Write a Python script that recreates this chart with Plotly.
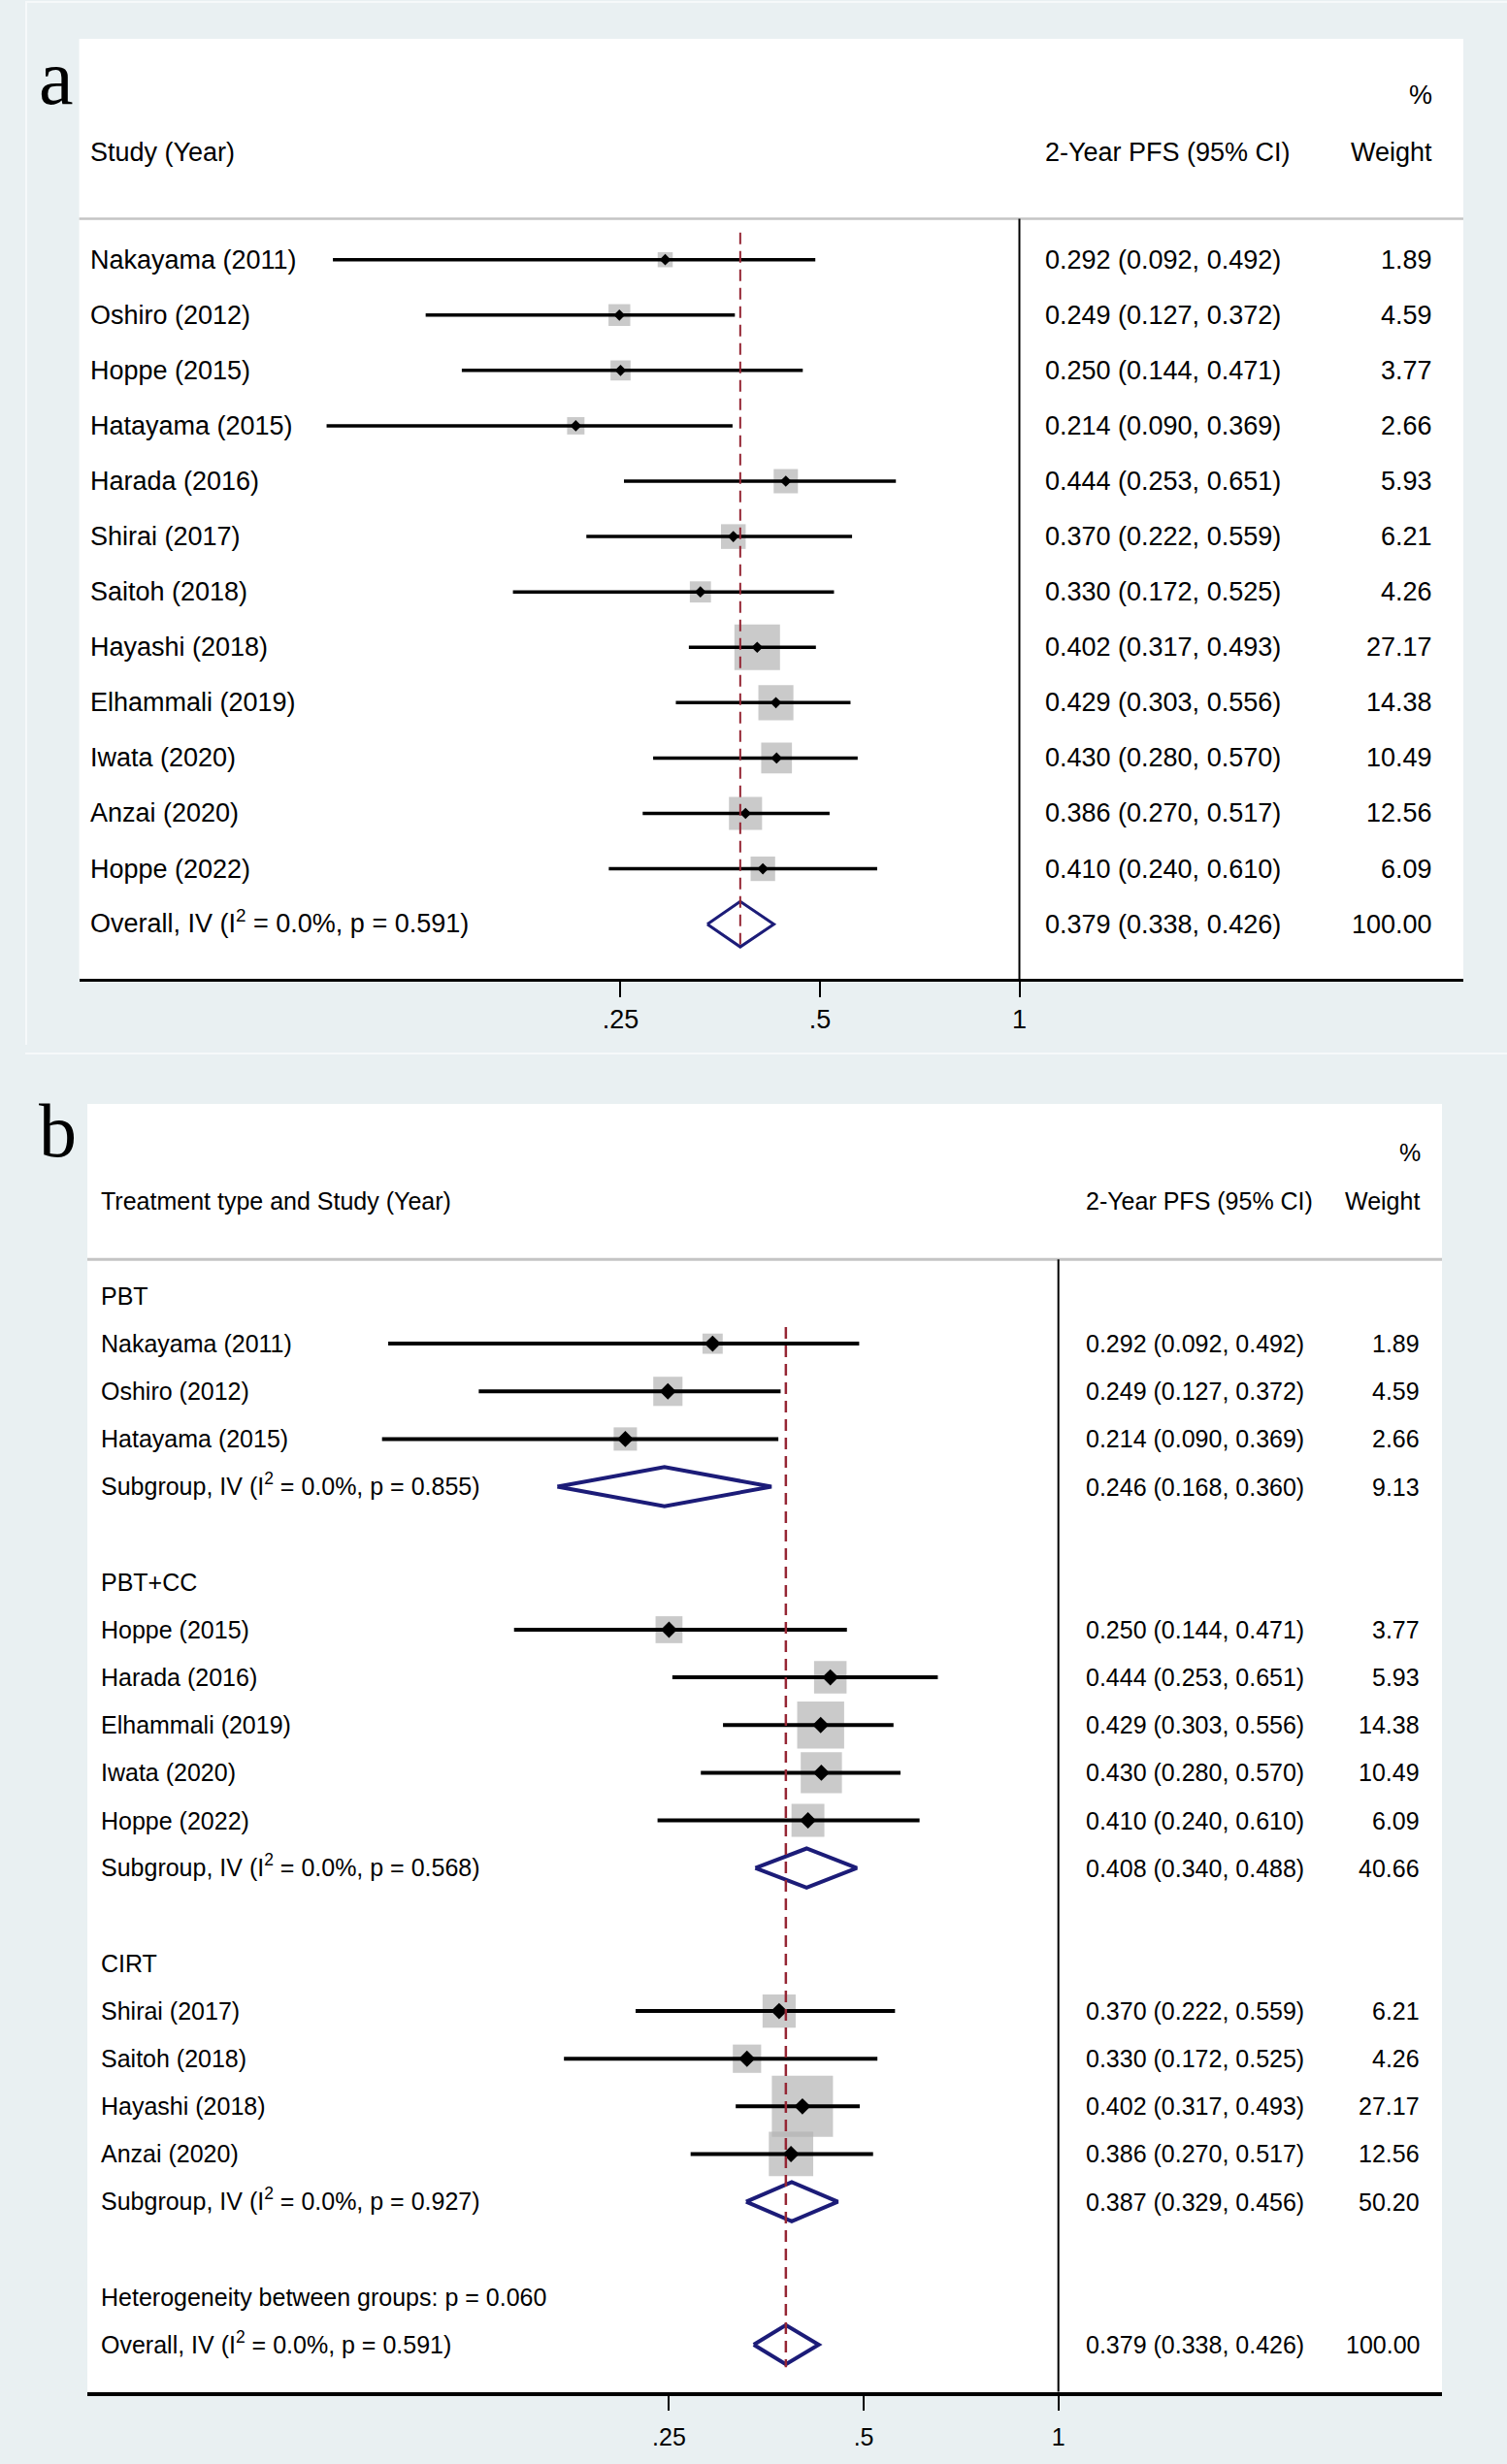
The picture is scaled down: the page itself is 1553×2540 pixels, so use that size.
import plotly.graph_objects as go

W, H = 1553, 2540
FONT = "Liberation Sans, Arial, sans-serif"

# ---------------- data ----------------
studies = ["Nakayama (2011)", "Oshiro (2012)", "Hoppe (2015)", "Hatayama (2015)",
           "Harada (2016)", "Shirai (2017)", "Saitoh (2018)", "Hayashi (2018)",
           "Elhammali (2019)", "Iwata (2020)", "Anzai (2020)", "Hoppe (2022)"]
est = [0.292, 0.249, 0.250, 0.214, 0.444, 0.370, 0.330, 0.402, 0.429, 0.430, 0.386, 0.410]
lo = [0.092, 0.127, 0.144, 0.090, 0.253, 0.222, 0.172, 0.317, 0.303, 0.280, 0.270, 0.240]
hi = [0.492, 0.372, 0.471, 0.369, 0.651, 0.559, 0.525, 0.493, 0.556, 0.570, 0.517, 0.610]
weight = [1.89, 4.59, 3.77, 2.66, 5.93, 6.21, 4.26, 27.17, 14.38, 10.49, 12.56, 6.09]

overall = dict(est=0.379, lo=0.338, hi=0.426, wt=100.00, i2="0.0%", p="0.591")

groups = ["PBT", "PBT+CC", "CIRT"]
group_studies = [
    ["Nakayama (2011)", "Oshiro (2012)", "Hatayama (2015)"],
    ["Hoppe (2015)", "Harada (2016)", "Elhammali (2019)", "Iwata (2020)", "Hoppe (2022)"],
    ["Shirai (2017)", "Saitoh (2018)", "Hayashi (2018)", "Anzai (2020)"],
]
sub_est = [0.246, 0.408, 0.387]
sub_lo = [0.168, 0.340, 0.329]
sub_hi = [0.360, 0.488, 0.456]
sub_wt = [9.13, 40.66, 50.20]
sub_p = ["0.855", "0.568", "0.927"]
het_p = "0.060"

ticks = [0.25, 0.5, 1]
tick_text = [".25", ".5", "1"]


def px(x):
    return x / W


def py(y):
    return 1 - y / H


def ci_text(e, l, h):
    return f"{e:.3f} ({l:.3f}, {h:.3f})"


fig = go.Figure()
annotations = []
shapes = []


def add_text(xr_paper, yr, r, text, fsize, anchor="left"):
    annotations.append(dict(x=px(xr_paper), y=r, xref="paper", yref=yr, text=text,
                            xanchor=anchor, yanchor="middle", showarrow=False,
                            font=dict(size=fsize, color="black", family=FONT)))


def add_panel(xr, yr, rows, names, e, l, h, w, box_max, diam_size, ci_w, fsize,
              col_label, col_ci, col_wt):
    # weight boxes, area grows with the study weight
    fig.add_trace(go.Scatter(
        x=e, y=rows, mode="markers", xaxis=xr, yaxis=yr, hoverinfo="skip",
        marker=dict(symbol="square", color="#b4b4b4",
                    size=[box_max * (v / 27.17) ** 0.415 for v in w], line=dict(width=0))))
    # confidence intervals
    xs, ys = [], []
    for r, a, b in zip(rows, l, h):
        xs += [a, b, None]
        ys += [r, r, None]
    fig.add_trace(go.Scatter(x=xs, y=ys, mode="lines", xaxis=xr, yaxis=yr,
                             line=dict(color="black", width=ci_w), hoverinfo="skip"))
    fig.add_trace(go.Scatter(
        x=e, y=rows, mode="markers", xaxis=xr, yaxis=yr, hoverinfo="skip",
        marker=dict(symbol="diamond", color="black", size=diam_size)))
    for r, n, a, b, c, v in zip(rows, names, e, l, h, w):
        add_text(col_label, yr, r, n, fsize)
        add_text(col_ci, yr, r, ci_text(a, b, c), fsize)
        add_text(col_wt, yr, r, f"{v:.2f}", fsize, "right")


def add_diamond(xr, yr, r, e, l, h, width):
    hh = 0.41
    fig.add_trace(go.Scatter(x=[l, e, h, e, l], y=[r, r - hh, r, r + hh, r], mode="lines",
                             xaxis=xr, yaxis=yr, hoverinfo="skip",
                             line=dict(color="#1c1c78", width=width)))


# ---------------- panel a ----------------
FA = 27
rows_a = list(range(len(studies)))
add_panel("x", "y", rows_a, studies, est, lo, hi, weight, 47, 9, 3.5, FA, 91, 1075, 1478)
ov_a = len(studies)
add_diamond("x", "y", ov_a, overall["est"], overall["lo"], overall["hi"], 3)
add_text(91, "y", ov_a - 0.04, f"Overall, IV (I<sup>2</sup> = {overall['i2']}, p = {overall['p']})", FA)
add_text(1075, "y", ov_a, ci_text(overall["est"], overall["lo"], overall["hi"]), FA)
add_text(1478, "y", ov_a, f"{overall['wt']:.2f}", FA, "right")
add_text(91, "y", -1.94, "Study (Year)", FA)
add_text(1075, "y", -1.94, "2-Year PFS (95% CI)", FA)
add_text(1478, "y", -1.94, "Weight", FA, "right")
add_text(1478, "y", -2.97, "%", FA, "right")

ya_bot, ya_top = 12.987, -3.989
shapes += [
    dict(type="line", xref="x domain", yref="y", x0=0, x1=1, y0=-0.74, y1=-0.74,
         line=dict(color="#c4c4c4", width=2.5)),
    dict(type="line", xref="x", yref="y", x0=1, x1=1, y0=-0.74, y1=ya_bot,
         line=dict(color="black", width=2)),
    dict(type="line", xref="x", yref="y", x0=overall["est"], x1=overall["est"],
         y0=-0.49, y1=ov_a + 0.48, layer="above",
         line=dict(color="#952634", width=2, dash="12px,7px")),
]

# ---------------- panel b ----------------
FB = 25
row = 0
b_rows, b_names, b_e, b_l, b_h, b_w = [], [], [], [], [], []
for gi, g in enumerate(groups):
    add_text(102, "y2", row, g, FB)
    row += 1
    for s in group_studies[gi]:
        k = studies.index(s)
        b_rows.append(row)
        b_names.append(s)
        b_e.append(est[k])
        b_l.append(lo[k])
        b_h.append(hi[k])
        b_w.append(weight[k])
        row += 1
    add_diamond("x2", "y2", row, sub_est[gi], sub_lo[gi], sub_hi[gi], 4)
    add_text(102, "y2", row - 0.05, f"Subgroup, IV (I<sup>2</sup> = 0.0%, p = {sub_p[gi]})", FB)
    add_text(1117, "y2", row, ci_text(sub_est[gi], sub_lo[gi], sub_hi[gi]), FB)
    add_text(1465, "y2", row, f"{sub_wt[gi]:.2f}", FB, "right")
    row += 2
add_panel("x2", "y2", b_rows, b_names, b_e, b_l, b_h, b_w, 63, 13, 4, FB, 102, 1117, 1465)
add_text(102, "y2", row, f"Heterogeneity between groups: p = {het_p}", FB)
row += 1
ov_b = row
add_diamond("x2", "y2", ov_b, overall["est"], overall["lo"], overall["hi"], 4)
add_text(102, "y2", ov_b - 0.05, f"Overall, IV (I<sup>2</sup> = {overall['i2']}, p = {overall['p']})", FB)
add_text(1117, "y2", ov_b, ci_text(overall["est"], overall["lo"], overall["hi"]), FB)
add_text(1465, "y2", ov_b, f"{overall['wt']:.2f}", FB, "right")
add_text(102, "y2", -2.0, "Treatment type and Study (Year)", FB)
add_text(1117, "y2", -2.0, "2-Year PFS (95% CI)", FB)
add_text(1465, "y2", -2.0, "Weight", FB, "right")
add_text(1466, "y2", -3.01, "%", FB, "right")

yb_bot, yb_top = 22.99, -4.029
shapes += [
    dict(type="line", xref="x2 domain", yref="y2", x0=0, x1=1, y0=-0.77, y1=-0.77,
         line=dict(color="#c4c4c4", width=3)),
    dict(type="line", xref="x2", yref="y2", x0=1, x1=1, y0=-0.77, y1=yb_bot,
         line=dict(color="black", width=2)),
    dict(type="line", xref="x2", yref="y2", x0=overall["est"], x1=overall["est"],
         y0=0.65, y1=ov_b + 0.47, layer="above",
         line=dict(color="#952634", width=2.5, dash="12px,7px")),
]

# faint frame lines of the stitched panels
shapes += [
    dict(type="line", xref="paper", yref="paper", x0=px(26), x1=1, y0=py(2), y1=py(2),
         line=dict(color="#f6f9fa", width=2), layer="below"),
    dict(type="line", xref="paper", yref="paper", x0=px(27), x1=px(27), y0=py(2), y1=py(1077),
         line=dict(color="#f6f9fa", width=2), layer="below"),
    dict(type="line", xref="paper", yref="paper", x0=px(26), x1=1, y0=py(1086), y1=py(1086),
         line=dict(color="#f6f9fa", width=2), layer="below"),
]

# panel letters
SERIF = "Liberation Serif, Times New Roman, serif"
annotations.append(dict(x=px(38), y=py(80), xref="paper", yref="paper", text="a",
                        xanchor="left", yanchor="middle", showarrow=False,
                        font=dict(size=80, color="black", family=SERIF)))
annotations.append(dict(x=px(38), y=py(1165), xref="paper", yref="paper", text="b",
                        xanchor="left", yanchor="middle", showarrow=False,
                        font=dict(size=78, color="black", family=SERIF)))


def xaxis_cfg(dom, rng, fsize, lw, anchor, standoff):
    return dict(type="log", domain=dom, range=rng, anchor=anchor, showline=True,
                linecolor="black", linewidth=lw, showgrid=False, zeroline=False,
                tickvals=ticks, ticktext=tick_text, ticks="outside", ticklen=16, tickwidth=2,
                tickcolor="black", ticklabelstandoff=standoff,
                tickfont=dict(size=fsize, color="black", family=FONT), fixedrange=True)


fig.update_layout(
    width=W, height=H, margin=dict(l=0, r=0, t=0, b=0),
    paper_bgcolor="#e9f0f2", plot_bgcolor="white", showlegend=False,
    xaxis=xaxis_cfg([px(81.6), px(1508)], [-1.4192, 0.6701], FA, 3, "y", 0),
    yaxis=dict(domain=[py(1009), py(40)], range=[ya_bot, ya_top], visible=False,
               anchor="x", fixedrange=True),
    xaxis2=xaxis_cfg([px(90), px(1486)], [-1.5014, 0.5931], FB, 3.5, "y2", 6),
    yaxis2=dict(domain=[py(2465.7), py(1138)], range=[yb_bot, yb_top], visible=False,
                anchor="x2", fixedrange=True),
    annotations=annotations,
    shapes=shapes,
)

fig.write_html("out.html", config={"displayModeBar": False},
               post_script="document.body.style.margin='0px';")
